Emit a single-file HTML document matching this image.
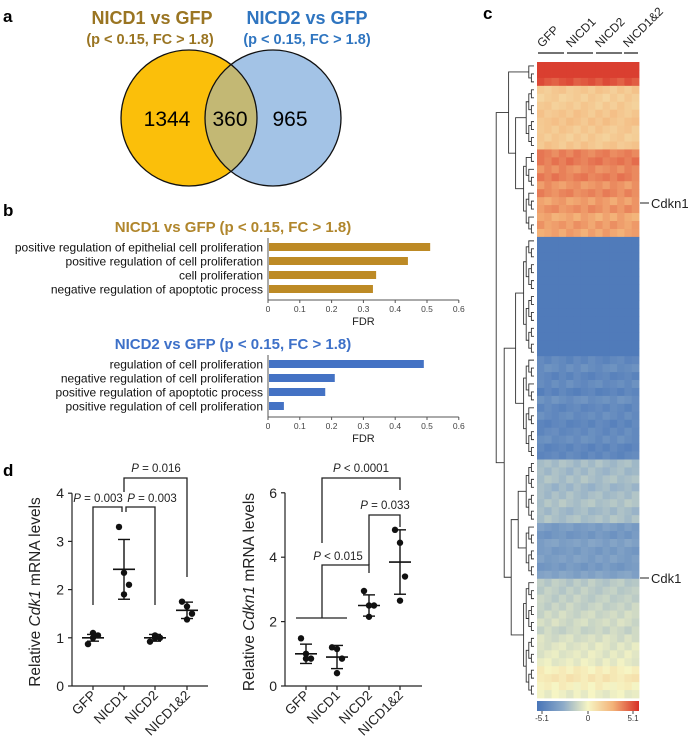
<!DOCTYPE html>
<html><head><meta charset="utf-8"><style>
html,body{margin:0;padding:0;background:#fff;}
svg{display:block;font-family:"Liberation Sans",sans-serif;}
</style></head><body>
<svg id="fig" width="699" height="746" viewBox="0 0 699 746" xmlns="http://www.w3.org/2000/svg">
<defs><clipPath id="c1"><circle cx="189" cy="118" r="68"/></clipPath></defs>
<!-- Panel a -->
<g>
<text x="3" y="22" font-size="17" font-weight="bold">a</text>
<text x="152" y="24" font-size="18" font-weight="bold" fill="#9a7522" text-anchor="middle">NICD1 vs GFP</text>
<text x="150" y="44" font-size="14.5" font-weight="bold" fill="#9a7522" text-anchor="middle">(p &lt; 0.15, FC &gt; 1.8)</text>
<text x="307" y="24" font-size="18" font-weight="bold" fill="#2f75c0" text-anchor="middle">NICD2 vs GFP</text>
<text x="307" y="44" font-size="14.5" font-weight="bold" fill="#2f75c0" text-anchor="middle">(p &lt; 0.15, FC &gt; 1.8)</text>
<circle cx="189" cy="118" r="68" fill="#fbbf0a"/>
<circle cx="273" cy="118" r="68" fill="#a3c3e6"/>
<circle cx="273" cy="118" r="68" fill="#c3b874" clip-path="url(#c1)"/>
<circle cx="189" cy="118" r="68" fill="none" stroke="#111" stroke-width="1.3"/>
<circle cx="273" cy="118" r="68" fill="none" stroke="#111" stroke-width="1.3"/>
<text x="167" y="126" font-size="21" text-anchor="middle">1344</text>
<text x="230" y="126" font-size="21" text-anchor="middle">360</text>
<text x="290" y="126" font-size="21" text-anchor="middle">965</text>
</g>
<text x="3" y="216" font-size="17" font-weight="bold">b</text>
<text x="233" y="232" font-size="15" font-weight="bold" fill="#b0862c" text-anchor="middle">NICD1 vs GFP (p &lt; 0.15, FC &gt; 1.8)</text>
<text x="233" y="349" font-size="15" font-weight="bold" fill="#3d70c8" text-anchor="middle">NICD2 vs GFP (p &lt; 0.15, FC &gt; 1.8)</text>
<g id="barsB"></g>
<text x="3" y="476" font-size="17" font-weight="bold">d</text>
<g id="dots"></g>
<text x="483" y="19" font-size="17" font-weight="bold">c</text>
<g id="heat"></g>
</svg>
<script>
// ---- Panel b data ----
const terms1 = ["positive regulation of epithelial cell proliferation","positive regulation of cell proliferation","cell proliferation","negative regulation of apoptotic process"];
const fdr1 = [0.51, 0.44, 0.34, 0.33];
const terms2 = ["regulation of cell proliferation","negative regulation of cell proliferation","positive regulation of apoptotic process","positive regulation of cell proliferation"];
const fdr2 = [0.49, 0.21, 0.18, 0.05];
const fdrTicks = ["0","0.1","0.2","0.3","0.4","0.5","0.6"];

// ---- Panel d data ----
const groups = ["GFP","NICD1","NICD2","NICD1&2"];
const cdk1Pts = [[0.87,1.0,1.05,1.1],[3.3,2.35,2.1,1.9],[0.92,1.05,1.0,1.0],[1.75,1.65,1.5,1.38]];
const cdk1Mean = [1.0,2.42,1.0,1.57];
const cdk1Sd = [0.07,0.62,0.07,0.17];
const cdkn1Pts = [[1.48,1.0,0.85,0.85],[1.2,1.15,0.85,0.4],[2.95,2.5,2.5,2.15],[4.85,4.45,3.4,2.65]];
const cdkn1Mean = [1.0,0.9,2.5,3.85];
const cdkn1Sd = [0.3,0.36,0.33,1.0];
const cdk1Ticks = [0,1,2,3,4];
const cdkn1Ticks = [0,2,4,6];

// ---- Panel c data ----
const heatCols = ["GFP","NICD1","NICD2","NICD1&2"];
const rowVals = [4.8,4.8,4.3,
 1.6,1.4,1.5,1.7,1.8,1.6,1.5,1.7,
 3.4,3.6,3.2,3.5,3.0,3.3,2.8,3.1,2.6,2.9,2.7,
 -4.8,-4.8,-4.8,-4.8,-4.8,-4.8,-4.8,-4.8,-4.8,-4.8,-4.8,-4.8,-4.8,-4.8,-4.8,
 -4.2,-3.9,-4.3,-4.0,-4.4,-3.8,-4.2,-4.0,-4.3,-4.1,-3.9,-4.3,-4.2,
 -1.9,-2.0,-1.8,-2.1,-1.9,-1.7,-2.0,-1.8,
 -3.2,-3.5,-3.0,-3.3,-3.1,-3.4,-2.9,
 -1.5,-1.4,-1.3,-1.2,-1.0,-0.9,-1.1,-0.8,-0.6,-0.5,-0.4,0.2,0.5,0.1,-0.3];
const colOffsets = [0.2,-0.1,0.3,0,-0.2,0.1,0.25,-0.15,0,0.2,-0.1,0.3,0.1,-0.2];
const blockSizes = [3,8,11,15,13,8,7,15];

const NS="http://www.w3.org/2000/svg";
function mk(parent,tag,attrs,text){const e=document.createElementNS(NS,tag);for(const k in attrs)e.setAttribute(k,attrs[k]);if(text!==undefined)e.textContent=text;parent.appendChild(e);return e;}

// Panel b
(function(){
 const g=document.getElementById('barsB');
 const x0=268,pxPer=318;
 const xs=v=>x0+v*pxPer;
 function chart(terms,vals,yTop,color,name){
  const rowY=[yTop,yTop+14,yTop+28,yTop+42];
  const axisY=yTop+53;
  mk(g,'line',{x1:x0,y1:yTop-9,x2:x0,y2:axisY,stroke:'#555','stroke-width':1});
  mk(g,'line',{x1:x0,y1:axisY,x2:xs(0.6),y2:axisY,stroke:'#555','stroke-width':1});
  for(let i=0;i<vals.length;i++){
   const r=mk(g,'rect',{x:x0+1,y:rowY[i]-4,width:xs(vals[i])-x0-1,height:8,fill:color});
   
   
   const t=mk(g,'text',{x:x0-5,y:rowY[i]+4.5,'font-size':12,'text-anchor':'end',fill:'#111'},terms[i]);
   
   
  }
  fdrTicks.forEach((tk,i)=>{
   const v=parseFloat(tk);
   mk(g,'line',{x1:xs(v),y1:axisY,x2:xs(v),y2:axisY+3,stroke:'#555'});
   const t=mk(g,'text',{x:xs(v),y:axisY+12,'font-size':8.5,'text-anchor':'middle',fill:'#444'},tk);
   
   
  });
  const f=mk(g,'text',{x:xs(0.3),y:axisY+25,'font-size':11,'text-anchor':'middle',fill:'#222'},'FDR');
  
  
 }
 chart(terms1,fdr1,247,'#bd8a25','nicd1-go');
 chart(terms2,fdr2,364,'#4472c4','nicd2-go');
})();

// Panel d
(function(){
 const g=document.getElementById('dots');
 const jit=[-5,0,5,0];
 function plot(opt){
  const {ax,axR,y0,ppu,ticks,pts,mean,sd,cats,title,name,tx}=opt;
  const ys=v=>y0-v*ppu;
  mk(g,'line',{x1:ax,y1:ys(ticks[ticks.length-1]),x2:ax,y2:y0,stroke:'#222','stroke-width':1.2});
  mk(g,'line',{x1:ax,y1:y0,x2:axR,y2:y0,stroke:'#222','stroke-width':1.2});
  ticks.forEach(v=>{
   mk(g,'line',{x1:ax-4,y1:ys(v),x2:ax,y2:ys(v),stroke:'#222','stroke-width':1.2});
   const t=mk(g,'text',{x:ax-8,y:ys(v)+5,'font-size':14,'text-anchor':'end',fill:'#222'},String(v));
   
   
  });
  const yt=mk(g,'text',{transform:`translate(${tx},592) rotate(-90)`,'font-size':15.5,'text-anchor':'middle',fill:'#222'});
  
  
  yt.innerHTML='Relative <tspan font-style="italic">'+title+'</tspan> mRNA levels';
  cats.forEach((c,i)=>{
   const cx=opt.cx[i];
   mk(g,'line',{x1:cx,y1:y0,x2:cx,y2:y0+4,stroke:'#222','stroke-width':1.2});
   const t=mk(g,'text',{transform:`translate(${cx+4},${y0+10}) rotate(-45)`,'font-size':13.5,'text-anchor':'end',fill:'#222'},c);
   
   
   pts[i].forEach((v,j)=>{
    const d=mk(g,'circle',{cx:cx+jit[j],cy:ys(v),r:3.2,fill:'#111'});
    
    
   });
   mk(g,'line',{x1:cx-11,y1:ys(mean[i]),x2:cx+11,y2:ys(mean[i]),stroke:'#111','stroke-width':1.6});
   mk(g,'line',{x1:cx,y1:ys(mean[i]-sd[i]),x2:cx,y2:ys(mean[i]+sd[i]),stroke:'#111','stroke-width':1.4});
   mk(g,'line',{x1:cx-6,y1:ys(mean[i]-sd[i]),x2:cx+6,y2:ys(mean[i]-sd[i]),stroke:'#111','stroke-width':1.4});
   mk(g,'line',{x1:cx-6,y1:ys(mean[i]+sd[i]),x2:cx+6,y2:ys(mean[i]+sd[i]),stroke:'#111','stroke-width':1.4});
  });
 }
 const lx=[93,124,155,187], rx=[306,337,369,400];
 plot({ax:72,axR:208,y0:686,ppu:48.2,ticks:cdk1Ticks,pts:cdk1Pts,mean:cdk1Mean,sd:cdk1Sd,cats:groups,title:'Cdk1',name:'cdk1',cx:lx,tx:40});
 plot({ax:285,axR:422,y0:686,ppu:32.2,ticks:cdkn1Ticks,pts:cdkn1Pts,mean:cdkn1Mean,sd:cdkn1Sd,cats:groups,title:'Cdkn1',name:'cdkn1',cx:rx,tx:254});
 function br(pts,label,lxp,ly){
  mk(g,'polyline',{points:pts,fill:'none',stroke:'#222','stroke-width':1.3});
  if(!label) return;
  const t=mk(g,'text',{x:lxp,y:ly,'font-size':11.5,'text-anchor':'middle',fill:'#222'});
  
  
  t.innerHTML='<tspan font-style="italic">P</tspan>'+label;
 }
 br('93,605 93,507 122,507 122,512',' = 0.003',98,502);
 br('126,512 126,507 155,507 155,605',' = 0.003',152,502);
 br('124,492 124,478 187,478 187,577',' = 0.016',156,472);
 br('296,618 347,618','',0,0);
 br('322,618 322,565 369,565 369,573',' &lt; 0.015',338,560);
 br('322,543 322,478 400,478 400,490',' &lt; 0.0001',361,472);
 br('369,565 369,515 400,515 400,527',' = 0.033',385,509);
})();

// Panel c heatmap
(function(){
 const g=document.getElementById('heat');
 const hx0=537,hx1=639,hy0=62,hy1=698;
 const nR=rowVals.length,nC=colOffsets.length;
 const rh=(hy1-hy0)/nR, cw=(hx1-hx0)/nC;
 function col(v){
  v=Math.max(-5.1,Math.min(5.1,v));
  const stops=[[-5.1,[72,117,184]],[-2.5,[140,170,200]],[0,[246,245,196]],[2.5,[243,178,120]],[5.1,[215,48,39]]];
  for(let i=0;i<stops.length-1;i++){const a=stops[i],b=stops[i+1];if(v<=b[0]){const t=(v-a[0])/(b[0]-a[0]);return 'rgb('+a[1].map((c,k)=>Math.round(c+(b[1][k]-c)*t)).join(',')+')';}}
  return 'rgb(215,48,39)';
 }
 for(let r=0;r<nR;r++)for(let c=0;c<nC;c++){
  const v=rowVals[r]+ (Math.abs(rowVals[r])>4.6?0:colOffsets[(c+r)%nC]);
  const e=mk(g,'rect',{x:hx0+c*cw,y:hy0+r*rh,width:cw+0.4,height:rh+0.4,fill:col(v)});
  
  
 }
 const segs=[[538,564],[567,593],[596,622],[624,638]];
 heatCols.forEach((c,i)=>{
  mk(g,'line',{x1:segs[i][0],y1:53,x2:segs[i][1],y2:53,stroke:'#444','stroke-width':1.5});
  const t=mk(g,'text',{transform:`translate(${segs[i][0]+4},48) rotate(-45)`,'font-size':12,fill:'#222'},c);
  
  
 });
 [['Cdkn1',203],['Cdk1',578]].forEach(([n,y])=>{
  mk(g,'line',{x1:640,y1:y,x2:649,y2:y,stroke:'#222','stroke-width':1});
  const t=mk(g,'text',{x:651,y:y+5,'font-size':13,fill:'#222'},n);
  
  
 });
 const defs=mk(g,'defs',{});const lg=mk(defs,'linearGradient',{id:'cbg',x1:0,x2:1,y1:0,y2:0});
 [-5.1,-2.5,0,2.5,5.1].forEach(v=>mk(lg,'stop',{offset:((v+5.1)/10.2),'stop-color':col(v)}));
 const cb=mk(g,'rect',{x:hx0,y:701,width:hx1-hx0,height:10,fill:'url(#cbg)'});
 
 
 [['-5.1',hx0+5],['0',(hx0+hx1)/2],['5.1',hx1-6]].forEach(([s,x])=>{
  mk(g,'line',{x1:x,y1:711,x2:x,y2:714,stroke:'#444'});
  const t=mk(g,'text',{x:x,y:721,'font-size':8,'text-anchor':'middle',fill:'#333'},s);
  
  
 });
 let path='';
 function build(lo,hi,xr){
  if(hi-lo===1){const y=hy0+(lo+0.5)*rh;return {x:xr,y};}
  const m=Math.floor((lo+hi)/2);
  const a=build(lo,m,xr),b=build(m,hi,xr);
  const x=Math.min(a.x,b.x)-2.6;
  path+=`M${a.x},${a.y}H${x}V${b.y}H${b.x}`;
  return {x,y:(a.y+b.y)/2};
 }
 const blocks=[];let s=0;
 blockSizes.forEach(n=>{blocks.push(build(s,s+n,534));s+=n;});
 function join(a,b,dx){const x=Math.min(a.x,b.x)-dx;path+=`M${a.x},${a.y}H${x}V${b.y}H${b.x}`;return {x,y:(a.y+b.y)/2};}
 const t12=join(blocks[1],blocks[2],8);
 const top=join(blocks[0],t12,7);
 const t34=join(blocks[3],blocks[4],8);
 const t56=join(blocks[5],blocks[6],8);
 const t567=join(t56,blocks[7],7);
 const bot=join(t34,t567,7);
 join(top,bot,8);
 const d=mk(g,'path',{d:path,fill:'none',stroke:'#333','stroke-width':0.9});
 
 
})();
</script>
</body></html>
